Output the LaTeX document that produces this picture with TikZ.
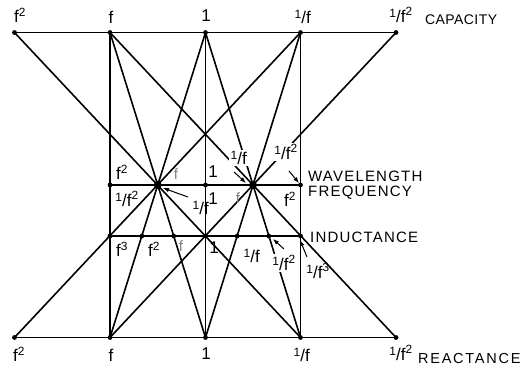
\documentclass[tikz,border=0pt]{standalone}
\usepackage{fontspec}
\setmainfont{Liberation Sans}
\usetikzlibrary{arrows.meta}
\newcommand{\ovf}[1][]{{\raisebox{0.5ex}{\fontsize{12pt}{12pt}\selectfont 1}/f\textsuperscript{#1}}}
\begin{document}
\begin{tikzpicture}[x=1pt,y=-1pt,
  ln/.style={line width=1.6pt},
  lab/.style={inner sep=1pt, font=\fontsize{17pt}{19pt}\selectfont},
  gr/.style={lab, text=black!50, font=\fontsize{15pt}{17pt}\selectfont},
  wlab/.style={lab, fill=white, inner sep=1.5pt},
  capt/.style={inner sep=0pt, anchor=west, font=\fontsize{15pt}{17pt}\selectfont\addfontfeature{LetterSpace=8}},
  arr/.style={-{Latex[length=6pt,width=4.5pt]}, line width=1pt}]
\useasboundingbox (0,0) rectangle (526,368);
% points
\coordinate (t0) at (14.5,32.5);
\coordinate (t1) at (110.0,32.5);
\coordinate (t2) at (205.5,32.5);
\coordinate (t3) at (300.5,32.5);
\coordinate (t4) at (396.0,32.5);
\coordinate (b0) at (14.5,337.5);
\coordinate (b1) at (110.0,337.5);
\coordinate (b2) at (205.5,337.5);
\coordinate (b3) at (300.5,337.5);
\coordinate (b4) at (396.0,337.5);
\coordinate (wl) at (110.0,185);
\coordinate (dl) at (157.75,185);
\coordinate (wm) at (205.5,185);
\coordinate (dr) at (253.0,185);
\coordinate (wr) at (300.5,185);
\coordinate (i1) at (110.0,236);
\coordinate (i2) at (141.8,236);
\coordinate (i3) at (173.7,236);
\coordinate (i4) at (205.5,236);
\coordinate (i5) at (237.2,236);
\coordinate (i6) at (268.8,236);
\coordinate (i7) at (300.5,236);
% lines
\draw[ln] (t0) -- (t4);
\draw[ln] (b0) -- (b4);
\draw[ln] (t1) -- (b1);
\draw[ln] (t2) -- (b2);
\draw[ln] (t3) -- (b3);
\draw[ln] (t0) -- (b3);
\draw[ln] (t1) -- (b2);
\draw[ln] (t2) -- (b1);
\draw[ln] (t3) -- (b0);
\draw[ln] (t1) -- (b4);
\draw[ln] (t2) -- (b3);
\draw[ln] (t3) -- (b2);
\draw[ln] (t4) -- (b1);
\draw[ln] (wl) -- (wr);
\draw[ln] (i1) -- (i7);
% dots
\foreach \p in {t0,t1,t2,t3,t4,b0,b1,b2,b3,b4,wl,wm,wr,i1,i2,i3,i4,i5,i6,i7}
  \fill (\p) circle (2.4pt);
\fill (dl) circle (4pt);
\fill (dr) circle (4pt);
% top labels
\node[lab] (lt0) at (20,15) {f\textsuperscript{2}};
\node[lab] (lt1) at (111,17) {f};
\node[lab] (lt2) at (206,16) {1};
\node[lab] (lt3) at (303,17) {\ovf};
\node[lab] (lt4) at (401,15) {\ovf[2]};
\node[capt, font=\fontsize{14pt}{16pt}\selectfont\addfontfeature{LetterSpace=3}] (cap) at (425,20) {CAPACITY};
% bottom labels
\node[lab] (lb0) at (19,354) {f\textsuperscript{2}};
\node[lab] (lb1) at (111,355) {f};
\node[lab] (lb2) at (206,354) {1};
\node[lab] (lb3) at (302,355) {\ovf};
\node[lab] (lb4) at (401,353) {\ovf[2]};
\node[capt, font=\fontsize{14.5pt}{16pt}\selectfont\addfontfeature{LetterSpace=12}] (rea) at (418,358) {REACTANCE};
% wavelength row labels
\node[lab] (lw1) at (122,172) {f\textsuperscript{2}};
\node[lab] (lw2) at (127,199) {\ovf[2]};
\node[gr] (lw3) at (176,174) {f};
\node[lab] (lw4) at (201,208) {\ovf};
\coordinate (a1s) at (188,197);
\coordinate (a1e) at (163,188);
\draw[arr] (a1s) -- (a1e);
\node[lab] (lw5) at (213,172) {1};
\node[lab] (lw6) at (213,199) {1};
\node[wlab] (lw7) at (239,158) {\ovf};
\coordinate (a2s) at (234,172);
\coordinate (a2e) at (246,183);
\draw[arr] (a2s) -- (a2e);
\node[gr] (lw8) at (238,198) {f};
\node[wlab] (lw9) at (286,152) {\ovf[2]};
\coordinate (a3s) at (289,171);
\coordinate (a3e) at (299,183);
\draw[arr] (a3s) -- (a3e);
\node[lab] (lw10) at (290,199) {f\textsuperscript{2}};
\node[capt] (wav) at (308,176) {WAVELENGTH};
\node[capt] (fre) at (308,193) {FREQUENCY};
% inductance labels
\node[lab] (li1) at (122,249) {f\textsuperscript{3}};
\node[lab] (li2) at (154,249) {f\textsuperscript{2}};
\node[gr] (li3) at (181,246) {f};
\node[lab] (li4) at (214,248) {1};
\node[lab] (li5) at (252,256) {\ovf};
\node[wlab] (li6) at (284,263) {\ovf[2]};
\coordinate (a4s) at (284,249);
\coordinate (a4e) at (273,239);
\draw[arr] (a4s) -- (a4e);
\node[lab] (li7) at (318,271) {\ovf[3]};
\coordinate (a5s) at (307,257);
\coordinate (a5e) at (300,240);
\draw[arr] (a5s) -- (a5e);
\node[capt] (ind) at (310,237) {INDUCTANCE};
\end{tikzpicture}
\end{document}
